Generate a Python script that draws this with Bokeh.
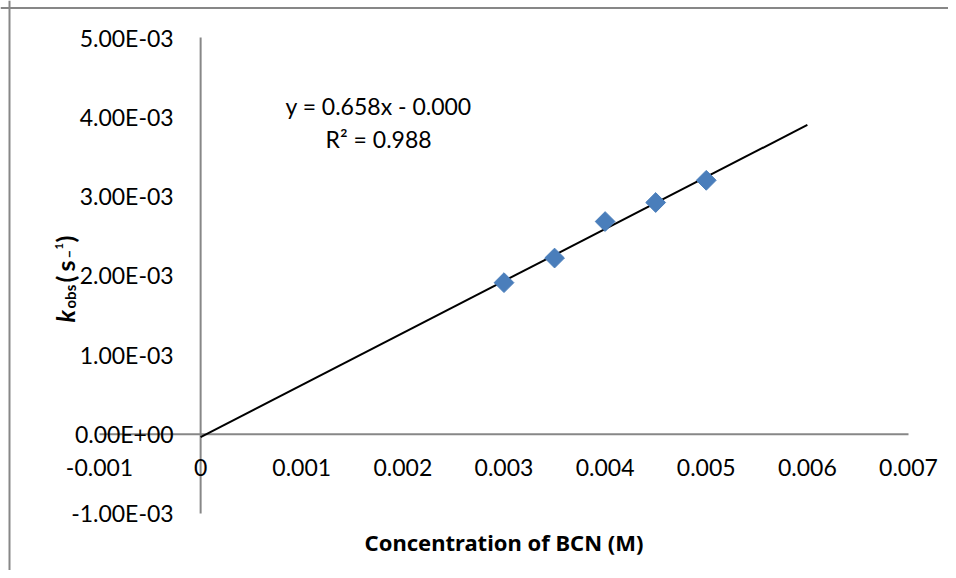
import numpy as np
from bokeh.plotting import figure
from bokeh.models import Range1d, Label, Span, ColumnDataSource
from bokeh.core.properties import value
from bokeh.embed import file_html
from bokeh.resources import INLINE

# ---- data ----
conc = [0.003, 0.0035, 0.004, 0.0045, 0.005]
kobs = [1.91e-3, 2.22e-3, 2.68e-3, 2.92e-3, 3.20e-3]
trend_x = [0.0, 0.006]

x_ticks = [-0.001, 0.0, 0.001, 0.002, 0.003, 0.004, 0.005, 0.006, 0.007]
x_tick_labels = ["-0.001", "0", "0.001", "0.002", "0.003", "0.004", "0.005", "0.006", "0.007"]
y_ticks = [-0.001, 0.0, 0.001, 0.002, 0.003, 0.004, 0.005]
y_tick_labels = ["-1.00E-03", "0.00E+00", "1.00E-03", "2.00E-03", "3.00E-03", "4.00E-03", "5.00E-03"]

eq_lines = ["y = 0.658x - 0.000", "R\u00b2 = 0.988"]
x_title = "Concentration of BCN (M)"

FONT = "Lato"
TITLE_FONT = "Noto Sans"
AXIS_GREY = "#878787"

W, H = 948, 570
PX_X = 101125.0   # pixels per x unit
PX_Y = 79333.3    # pixels per y unit
# view window around the plot area (plot area: x_ticks[0]..x_ticks[-1], y_ticks[0]..y_ticks[-1])
X0 = x_ticks[0] - 99 / PX_X
X1 = X0 + W / PX_X
Y1 = y_ticks[-1] + 37 / PX_Y
Y0 = Y1 - H / PX_Y

p = figure(width=W, height=H, output_backend="svg", toolbar_location=None,
           x_range=Range1d(X0, X1), y_range=Range1d(Y0, Y1),
           min_border=0, min_border_left=0, min_border_right=0,
           min_border_top=0, min_border_bottom=0)
p.axis.visible = False
p.grid.visible = False
p.outline_line_color = None
p.background_fill_color = "white"
p.border_fill_color = "white"

# chart-area border (top and left edges visible)
p.add_layout(Span(location=X0 + 9 / PX_X, dimension="height", line_color=AXIS_GREY, line_width=2))
p.add_layout(Span(location=Y1 - 7.5 / PX_Y, dimension="width", line_color=AXIS_GREY, line_width=2))

# axes crossing at zero
p.segment(x0=[x_ticks[0], 0], y0=[0, y_ticks[0]], x1=[x_ticks[-1], 0], y1=[0, y_ticks[-1]],
          line_color=AXIS_GREY, line_width=2)

# tick labels
xs = ColumnDataSource(dict(x=x_ticks, y=[0] * len(x_ticks), t=x_tick_labels))
p.text(x="x", y="y", text="t", source=xs, text_align="center", text_baseline="top",
       y_offset=25, text_font=value(FONT), text_font_size="23px", text_color="black")
ys = ColumnDataSource(dict(x=[0] * len(y_ticks), y=y_ticks, t=y_tick_labels))
p.text(x="x", y="y", text="t", source=ys, text_align="right", text_baseline="middle",
       x_offset=-27, text_font=value(FONT), text_font_size="23px", text_color="black")

# linear trend line (least squares fit of the data)
slope, icpt = np.polyfit(conc, kobs, 1)
ty = [slope * x + icpt for x in trend_x]
p.line(trend_x, ty, line_color="black", line_width=2)

p.scatter(conc, kobs, marker="square", angle=np.pi / 4, size=14,
          fill_color="#4a7ebb", line_color="#4a7ebb")

# equation text
for i, t in enumerate(eq_lines):
    p.add_layout(Label(x=0.00176, y=0.00414, y_offset=-33 * i, text=t, text_align="center",
                       text_baseline="alphabetic", text_font=FONT, text_font_size="23px",
                       text_color="black"))

# x axis title
p.add_layout(Label(x=0.003, y=-0.001, y_offset=-29, text=x_title, text_align="center",
                   text_baseline="alphabetic", text_font=TITLE_FONT, text_font_style="bold",
                   text_font_size="22px", text_color="black"))

# y axis title pieces (rotated)
pieces = [
    ("k", -35, -47, "25px", "bold italic"),
    ("obs", -30, -33, "15px", "bold"),
    ("(", -35, -7, "25px", "bold"),
    ("s", -35, 4, "25px", "bold"),
    ("\u2013", -32, 17, "15px", "bold"),
    ("1", -41, 26, "11px", "bold"),
    (")", -35, 33, "25px", "bold"),
]
for t, xo, yo, fs, st in pieces:
    p.add_layout(Label(x=-0.001, y=0.002, x_offset=xo, y_offset=yo, text=t, angle=np.pi / 2,
                       text_align="left", text_baseline="alphabetic", text_font=FONT,
                       text_font_style=st, text_font_size=fs, text_color="black"))

open("out.html", "w").write(file_html(p, INLINE))
